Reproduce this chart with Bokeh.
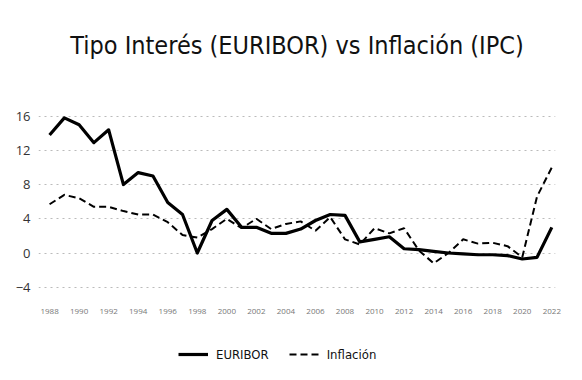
from bokeh.plotting import figure
from bokeh.models import FixedTicker, Legend, LegendItem, Range1d
from bokeh.embed import file_html
from bokeh.resources import INLINE

years = list(range(1988, 2023))
euribor = [13.8, 15.8, 15.0, 12.9, 14.4, 8.0, 9.4, 9.0, 5.9, 4.5, 0.0, 3.8, 5.1,
           3.0, 3.0, 2.3, 2.3, 2.8, 3.8, 4.5, 4.4, 1.3, 1.6, 1.9, 0.5, 0.4, 0.2,
           0.0, -0.1, -0.2, -0.2, -0.3, -0.7, -0.5, 3.0]
inflacion = [5.7, 6.8, 6.4, 5.4, 5.4, 4.9, 4.5, 4.5, 3.6, 2.1, 1.8, 2.8, 4.0,
             2.9, 4.0, 2.8, 3.4, 3.7, 2.6, 4.2, 1.6, 1.0, 2.9, 2.3, 2.9, 0.3,
             -1.2, 0.0, 1.6, 1.1, 1.2, 0.8, -0.5, 6.6, 10.0]
x_ticks = list(range(1988, 2023, 2))
y_ticks = [-4, 0, 4, 8, 12, 16]

COND = "'DejaVu Sans Condensed', sans-serif"

p = figure(frame_width=517, frame_height=303, output_backend="svg", toolbar_location=None,
           x_range=Range1d(1987.25, 2022.25), y_range=Range1d(-13.5, 21.92),
           min_border_left=38, min_border_right=11, min_border_top=65, min_border_bottom=6)

p.title.text = "Tipo Interés (EURIBOR) vs Inflación (IPC)"
p.title.align = "center"
p.title.vertical_align = "middle"
p.title.text_font = COND
p.title.text_font_size = "25px"
p.title.text_font_style = "normal"
p.title.text_color = "#111111"
p.title.standoff = 10

r1 = p.line(years, euribor, line_color="black", line_width=3.2, line_join="round")
r2 = p.line(years, inflacion, line_color="black", line_width=2, line_dash="7 4")

p.xaxis.ticker = FixedTicker(ticks=x_ticks)
p.yaxis.ticker = FixedTicker(ticks=y_ticks)
for ax in (p.xaxis[0], p.yaxis[0]):
    ax.axis_line_color = None
    ax.major_tick_line_color = None
    ax.minor_tick_line_color = None
    ax.major_tick_out = 0
    ax.major_tick_in = 0
p.xaxis.major_label_text_font = "Open Sans"
p.xaxis.major_label_text_font_size = "8px"
p.xaxis.major_label_text_color = "#777777"
p.xaxis.major_label_standoff = -60
p.yaxis.major_label_text_font = "Open Sans"
p.yaxis.major_label_text_font_size = "13px"
p.yaxis.major_label_text_color = "#333333"
p.yaxis.major_label_standoff = 8

p.xgrid.grid_line_color = None
p.ygrid.grid_line_color = "#bbbbbb"
p.ygrid.grid_line_dash = "2 4"
p.ygrid.grid_line_width = 1
p.outline_line_color = None

legend = Legend(items=[LegendItem(label="EURIBOR", renderers=[r1]),
                       LegendItem(label="Inflación", renderers=[r2])],
                orientation="horizontal", location=(140, 4),
                label_text_font=COND, label_text_font_size="13px",
                label_text_color="#111111",
                glyph_width=30, label_standoff=8, spacing=20,
                padding=0, margin=0,
                border_line_color=None, background_fill_alpha=0)
p.add_layout(legend)

open("out.html", "w").write(file_html(p, INLINE))
